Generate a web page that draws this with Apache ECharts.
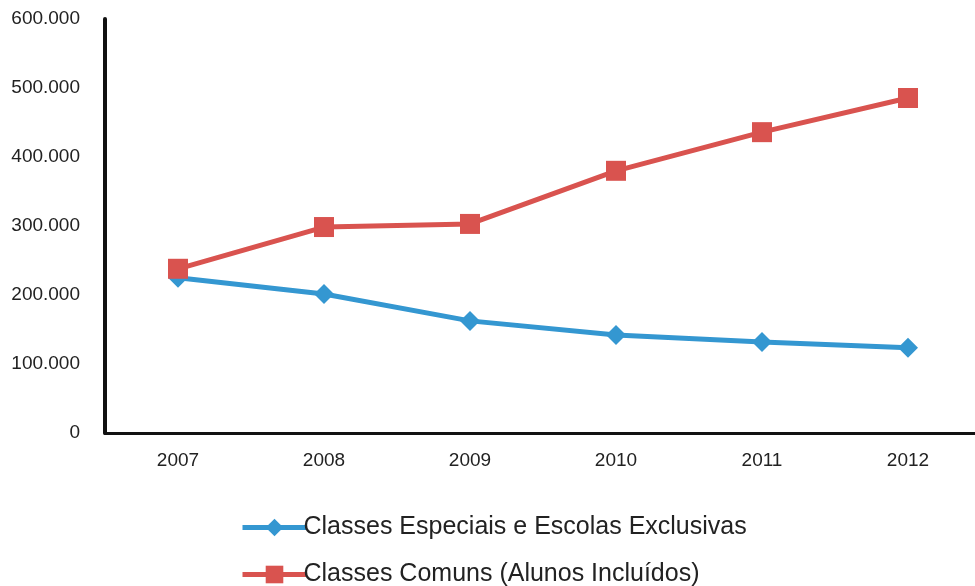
<!DOCTYPE html>
<html>
<head>
<meta charset="utf-8">
<script src="https://cdn.jsdelivr.net/npm/echarts@6/dist/echarts.min.js"></script>
<style>
html, body { margin: 0; padding: 0; background: #fff; overflow: hidden; }
#chart { width: 981px; height: 586px; }
</style>
</head>
<body>
<div id="chart"></div>
<script>
var anos = ['2007', '2008', '2009', '2010', '2011', '2012'];
var especiais = [225000, 201500, 162500, 142000, 132000, 123500];
var comuns = [238000, 298500, 303000, 380000, 436000, 485500];
var nomes = ['Classes Especiais e Escolas Exclusivas', 'Classes Comuns (Alunos Incluídos)'];
var cores = ['#3497d1', '#d9534f'];

var dom = document.getElementById('chart');
var myChart = echarts.init(dom);

function milhar(v) {
    if (v === 0) return '0';
    var s = String(Math.round(v));
    return s.replace(/\B(?=(\d{3})+(?!\d))/g, '.');
}

// uma legenda por serie, para posicionar igual ao original
function legenda(i, topo) {
    return {
        left: 235,
        top: topo,
        itemWidth: 64,
        itemHeight: 22,
        textStyle: { fontSize: 25, color: '#222', padding: [0, 0, 0, -8] },
        data: [{ name: nomes[i], lineStyle: { width: 5, color: cores[i] } }]
    };
}

var option = {
    animation: false,
    textStyle: { fontFamily: 'Liberation Sans, Arial, sans-serif' },
    grid: { left: 105, top: 19, right: 0, bottom: 153 },
    legend: [legenda(0, 510), legenda(1, 557)],
    xAxis: {
        type: 'category',
        data: anos,
        boundaryGap: true,
        axisLine: { lineStyle: { color: '#111', width: 3 } },
        axisTick: { show: false },
        axisLabel: { fontSize: 19, color: '#222', margin: 18 }
    },
    yAxis: {
        type: 'value',
        min: 0,
        max: 600000,
        interval: 100000,
        axisLine: { show: true, lineStyle: { color: '#111', width: 4 } },
        axisTick: { show: false },
        splitLine: { show: false },
        axisLabel: { fontSize: 19, color: '#222', margin: 25, formatter: milhar }
    },
    series: [
        {
            name: nomes[0],
            type: 'line',
            data: especiais,
            symbol: 'diamond',
            symbolSize: 20,
            itemStyle: { color: cores[0] },
            lineStyle: { width: 5, color: cores[0] }
        },
        {
            name: nomes[1],
            type: 'line',
            data: comuns,
            symbol: 'rect',
            symbolSize: 20,
            itemStyle: { color: cores[1] },
            lineStyle: { width: 5, color: cores[1] }
        }
    ]
};
myChart.setOption(option, true);
</script>
</body>
</html>
